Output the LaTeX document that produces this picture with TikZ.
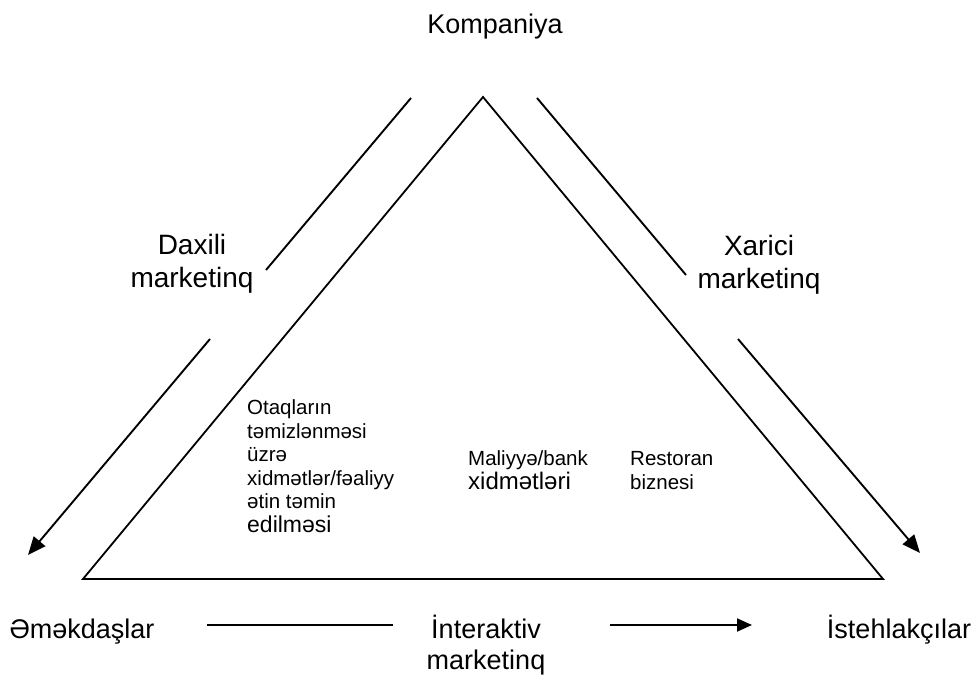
\documentclass[tikz,border=0pt]{standalone}
\usepackage{fontspec}
\setmainfont{Liberation Sans}
\usetikzlibrary{arrows.meta}
\newcommand\ctwo[2]{\vtop{\hbox to 0pt{\hss#1\hss}\hbox to 0pt{\hss#2\hss}}}
\tikzset{
  edge/.style={line width=1.8pt, line join=miter},
  conn/.style={line width=1.9pt},
  arr/.style={line width=1.9pt, -{Triangle[length=18pt,width=15pt]}},
  arrs/.style={line width=1.9pt, -{Triangle[length=15pt,width=13pt]}},
  lbl/.style={inner sep=0pt, anchor=base},
  big/.style={font=\fontsize{28}{33}\selectfont},
  mid/.style={font=\fontsize{27}{31}\selectfont},
  small/.style={font=\fontsize{20.5}{23.5}\selectfont},
}
\begin{document}
\begin{tikzpicture}[x=1pt,y=1pt]
\useasboundingbox (0,0) rectangle (972,675);
% triangle
\coordinate (apex) at (483,578);
\coordinate (bl) at (83,96);
\coordinate (br) at (883,96);
\draw[edge] (apex) -- (bl) -- (br) -- cycle;
% side connectors
\coordinate (lu1) at (411,577);
\coordinate (lu2) at (266,405);
\coordinate (la1) at (210,336);
\coordinate (la2) at (28,120);
\coordinate (ru1) at (537,577);
\coordinate (ru2) at (686,400);
\coordinate (ra1) at (738,336);
\coordinate (ra2) at (920,122);
\draw[conn] (lu1) -- (lu2);
\draw[arr] (la1) -- (la2);
\draw[conn] (ru1) -- (ru2);
\draw[arr] (ra1) -- (ra2);
% labels
\node[lbl, mid] (komp) at (495,641) {Kompaniya};
\node[lbl, big] (daxili) at (192,420) {\ctwo{Daxili}{marketinq}};
\node[lbl, big] (xarici) at (759,419) {\ctwo{Xarici}{marketinq}};
\node[lbl, mid] (emek) at (82,37) {Əməkdaşlar};
\node[lbl, mid] (inter) at (486,37) {\ctwo{İnteraktiv}{marketinq}};
\node[lbl, mid] (isteh) at (899,37) {İstehlakçılar};
% bottom connectors
\coordinate (b1) at (207,50);
\coordinate (b2) at (393,50);
\coordinate (b3) at (610,50);
\coordinate (b4) at (752,50);
\draw[conn] (b1) -- (b2);
\draw[arrs] (b3) -- (b4);
% inner texts
\node[lbl, anchor=base west, small] (otaq) at (247,260) {\vtop{\hbox{Otaqların}\hbox{təmizlənməsi}\hbox{üzrə}\hbox{xidmətlər/fəaliyy}\hbox{ətin təmin}\hbox{\fontsize{23}{24}\selectfont edilməsi}}};
\node[lbl, anchor=base west, small] (maliyye) at (468,209) {\vtop{\hbox{Maliyyə/bank}\hbox{\fontsize{24}{24}\selectfont xidmətləri}}};
\node[lbl, anchor=base west, small] (rest) at (630,209) {\vtop{\hbox{Restoran}\hbox{biznesi}}};
\end{tikzpicture}
\end{document}
